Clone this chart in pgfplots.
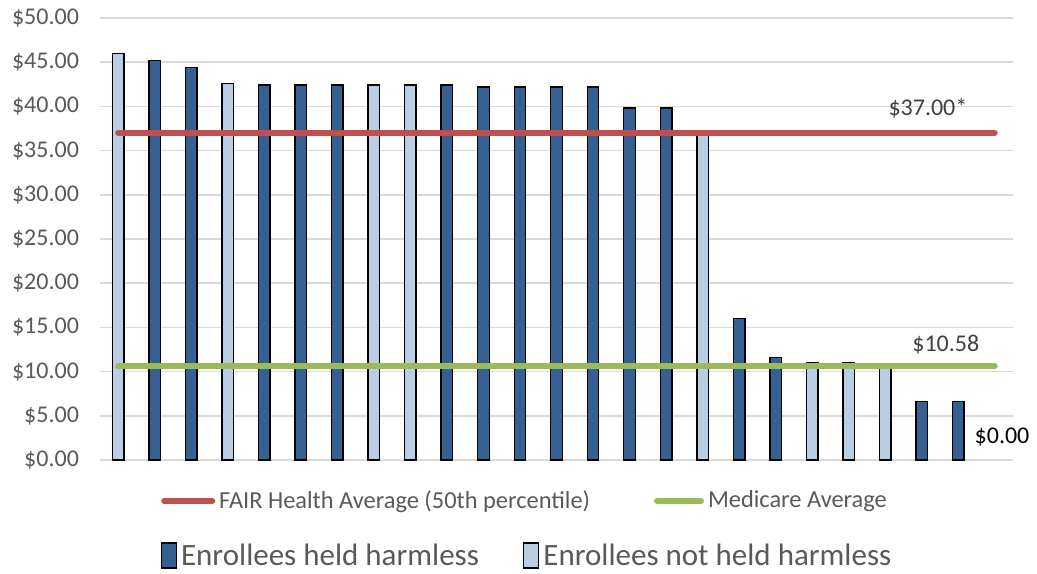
\documentclass[border=0pt]{standalone}
\usepackage{pgfplots}
\pgfplotsset{compat=1.18}
\usepackage{fontspec}
\setmainfont{Carlito}
\definecolor{darkbar}{HTML}{376092}
\definecolor{lightbar}{HTML}{B9CDE5}
\definecolor{redline}{HTML}{C0504D}
\definecolor{greenline}{HTML}{9BBB59}
\definecolor{gridc}{HTML}{D9D9D9}
\definecolor{ticktext}{HTML}{595959}
\definecolor{labtext}{HTML}{404040}
\begin{document}
\begin{tikzpicture}
\useasboundingbox (-50pt,-56.5pt) rectangle (468.5pt,230pt);
\begin{axis}[
  scale only axis,
  width=456.5pt, height=221pt,
  xmin=-0.5, xmax=24.5,
  ymin=0, ymax=50,
  ytick={0,5,...,50},
  xtick=\empty,
  axis line style={draw=none},
  major tick length=0pt,
  ymajorgrids,
  grid style={gridc, line width=0.8pt},
  /pgf/number format/assume math mode=true,
  yticklabel={\$\pgfmathprintnumber[fixed,fixed zerofill,precision=2]{\tick}},
  yticklabel style={font=\fontsize{12}{14}\selectfont, text=ticktext, xshift=-7pt},
  legend style={draw=none, fill=none, at={(0.4688,-0.217)}, anchor=center,
    font=\fontsize{15.5}{18}\selectfont, text=ticktext,
    /tikz/every even column/.append style={column sep=20pt}},
  legend columns=2,
  legend cell align=left,
  clip=false,
]
\addplot[ybar, bar width=5.75pt, bar shift=0pt, fill=darkbar, draw=black, line width=0.7pt,
  legend image code/.code={\draw[fill=darkbar, draw=black, line width=0.7pt] (0pt,-6pt) rectangle (7.5pt,6.5pt);}]
  coordinates {(1,45.2) (2,44.4) (4,42.4) (5,42.4) (6,42.4) (9,42.4) (10,42.2) (11,42.2) (12,42.2) (13,42.2) (14,39.8) (15,39.8) (17,16.0) (18,11.6) (22,6.6) (23,6.6)};
\addlegendentry{Enrollees held harmless}
\addplot[ybar, bar width=5.75pt, bar shift=0pt, fill=lightbar, draw=black, line width=0.7pt,
  legend image code/.code={\draw[fill=lightbar, draw=black, line width=0.7pt] (0pt,-6pt) rectangle (7.5pt,6.5pt);}]
  coordinates {(0,46.0) (3,42.6) (7,42.4) (8,42.4) (16,37.0) (19,11.0) (20,11.0) (21,10.9)};
\addlegendentry{Enrollees not held harmless}
\addplot[redline, line width=3pt, line cap=round, forget plot] coordinates {(0,37) (24,37)};
\addplot[greenline, line width=3pt, line cap=round, forget plot] coordinates {(0,10.58) (24,10.58)};
\node[text=labtext, font=\fontsize{12}{14}\selectfont] at (axis cs:22.17,39.8) {\$37.00*};
\node[text=labtext, font=\fontsize{12}{14}\selectfont] at (axis cs:22.66,13.0) {\$10.58};
\node[text=black, font=\fontsize{12}{14}\selectfont] at (axis cs:24.2,2.6) {\$0.00};
\end{axis}
\begin{axis}[
  scale only axis,
  width=456.5pt, height=221pt,
  xmin=-0.5, xmax=24.5, ymin=0, ymax=50,
  hide axis,
  legend style={draw=none, fill=none, at={(0.4666,-0.0928)}, anchor=center,
    font=\fontsize{12.2}{14}\selectfont, text=ticktext,
    /tikz/every even column/.append style={column sep=30pt}},
  legend columns=2,
  legend cell align=left,
]
\addlegendimage{legend image code/.code={\draw[redline, line width=3pt, line cap=round] (0pt,0pt) -- (24pt,0pt);}}
\addlegendentry{FAIR Health Average (50th percentile)}
\addlegendimage{legend image code/.code={\draw[greenline, line width=3pt, line cap=round] (0pt,0pt) -- (22pt,0pt);}}
\addlegendentry{Medicare Average}
\end{axis}
\end{tikzpicture}
\end{document}
